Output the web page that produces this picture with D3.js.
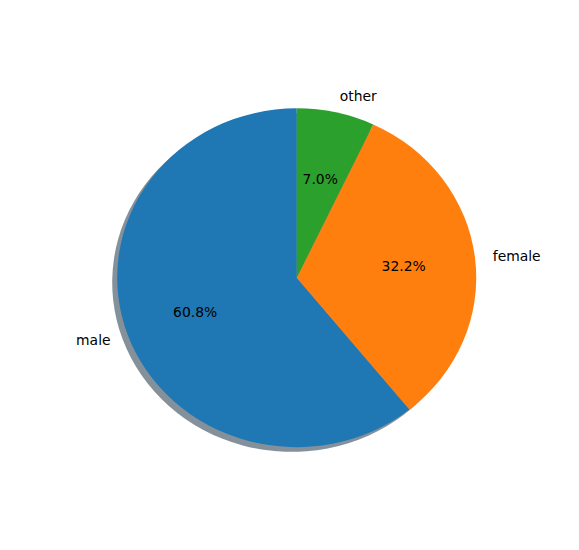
<!DOCTYPE html>
<html lang="en">
<head>
  <meta charset="UTF-8">
  <script src="https://cdn.jsdelivr.net/npm/d3@7"></script>
  <style>
    body { margin: 0; background: #fff; }
    text { font-family: "DejaVu Sans", sans-serif; font-size: 13.9px; fill: #000; }
  </style>
</head>
<body>
  <div id="wrapper"></div>
  <script>
    const labels = ["male", "female", "other"];
    const shares = [60.8, 32.2, 7.0];
    const colors = ["#1f77b4", "#ff7f0e", "#2ca02c"];

    const width = 579;
    const height = 550;
    // axes box like matplotlib's default subplot, limits -1.25..1.25 both ways
    const axLeft = width * 0.125, axRight = width * 0.9;
    const axTop = height * (1 - 0.88), axBottom = height * (1 - 0.11);
    const xScale = d3.scaleLinear().domain([-1.25, 1.25]).range([axLeft, axRight]);
    const yScale = d3.scaleLinear().domain([-1.25, 1.25]).range([axBottom, axTop]);
    const rx = xScale(1) - xScale(0);
    const ry = yScale(0) - yScale(1);

    const svg = d3.select("#wrapper")
      .append("svg")
      .attr("width", width)
      .attr("height", height);

    // counterclockwise from the top, like startangle=90
    const pie = d3.pie()
      .sort(null)
      .value(d => d)
      .startAngle(0)
      .endAngle(-2 * Math.PI);
    const arcs = pie(shares);
    const arc = d3.arc().innerRadius(0).outerRadius(1);

    // shadow offset: -0.02 data units * dpi/72
    const shadowOff = 0.02 * 100 / 72;
    const shadow = svg.append("g")
      .attr("transform", `translate(${xScale(-shadowOff)},${yScale(-shadowOff)}) scale(${rx},${ry})`);
    shadow.selectAll("path")
      .data(arcs)
      .join("path")
      .attr("d", arc)
      .attr("fill", (d, i) => {
        const c = d3.rgb(colors[i]);
        return d3.rgb(c.r * 0.3, c.g * 0.3, c.b * 0.3);
      })
      .attr("fill-opacity", 0.5);

    const pieG = svg.append("g")
      .attr("transform", `translate(${xScale(0)},${yScale(0)}) scale(${rx},${ry})`);
    pieG.selectAll("path")
      .data(arcs)
      .join("path")
      .attr("d", arc)
      .attr("fill", (d, i) => colors[i]);

    const mid = d => (d.startAngle + d.endAngle) / 2;
    const px = (d, r) => xScale(Math.sin(mid(d)) * r);
    const py = (d, r) => yScale(Math.cos(mid(d)) * r);

    svg.selectAll("text.label")
      .data(arcs)
      .join("text")
      .attr("class", "label")
      .attr("x", d => px(d, 1.1))
      .attr("y", d => py(d, 1.1))
      .attr("text-anchor", d => Math.sin(mid(d)) > 0 ? "start" : "end")
      .attr("dominant-baseline", "central")
      .text((d, i) => labels[i]);

    svg.selectAll("text.pct")
      .data(arcs)
      .join("text")
      .attr("class", "pct")
      .attr("x", d => px(d, 0.6))
      .attr("y", d => py(d, 0.6))
      .attr("text-anchor", "middle")
      .attr("dominant-baseline", "central")
      .text(d => d.data.toFixed(1) + "%");
  </script>
</body>
</html>
